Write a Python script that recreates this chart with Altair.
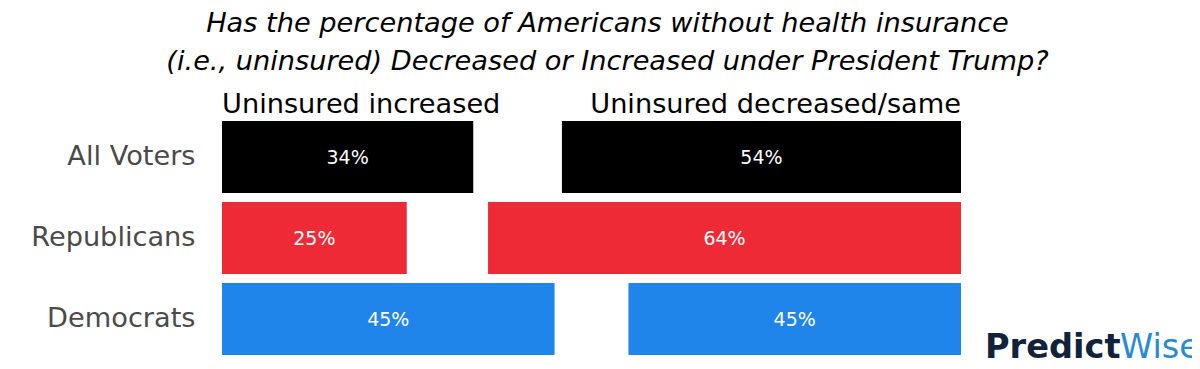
import altair as alt
import pandas as pd

groups = ["All Voters", "Republicans", "Democrats"]
increased = [34, 25, 45]
decreased = [54, 64, 45]
group_colors = ["#000000", "#ee2a37", "#1f85ea"]
headers = ["Uninsured increased", "Uninsured decreased/same"]
title_lines = [
    "Has the percentage of Americans without health insurance",
    "(i.e., uninsured) Decreased or Increased under President Trump?",
]

rows = []
for g, inc, dec in zip(groups, increased, decreased):
    rows.append({"group": g, "side": "inc", "value": inc})
    rows.append({"group": g, "side": "dec", "value": dec})
df = pd.DataFrame(rows)

FONT = "DejaVu Sans"
BIG = 27.2
xscale = alt.Scale(domain=[0, 100], nice=False, zero=False)
yscale = alt.Scale(domain=groups, paddingInner=0.1111, paddingOuter=0.0556)

base = alt.Chart(df).transform_calculate(
    x0="datum.side == 'inc' ? 0 : 100 - datum.value",
    x1="datum.side == 'inc' ? datum.value : 100",
    label="datum.value + '%'",
).transform_calculate(mid="(datum.x0 + datum.x1) / 2")

bars = base.mark_bar().encode(
    x=alt.X("x0:Q", scale=xscale, axis=None),
    x2="x1:Q",
    y=alt.Y(
        "group:N",
        scale=yscale,
        sort=groups,
        axis=alt.Axis(
            title=None,
            ticks=False,
            domain=False,
            labelFontSize=BIG,
            labelFont=FONT,
            labelColor="#4a4a4a",
            labelPadding=27,
            labelBaseline="middle",
        ),
    ),
    color=alt.Color("group:N", scale=alt.Scale(domain=groups, range=group_colors), legend=None),
)

vals = base.mark_text(color="white", font=FONT, fontSize=19, baseline="middle", dy=1).encode(
    x=alt.X("mid:Q", scale=xscale),
    y=alt.Y("group:N", scale=yscale, sort=groups),
    text="label:N",
)

hdr_df = pd.DataFrame({"text": headers, "pos": [0, 100]})
hdr_left = alt.Chart(hdr_df.iloc[[0]]).mark_text(
    align="left", baseline="alphabetic", font=FONT, fontSize=BIG, color="black"
).encode(x=alt.X("pos:Q", scale=xscale), y=alt.value(-4), text="text:N")
hdr_right = alt.Chart(hdr_df.iloc[[1]]).mark_text(
    align="right", baseline="alphabetic", font=FONT, fontSize=BIG, color="black"
).encode(x=alt.X("pos:Q", scale=xscale), y=alt.value(-4), text="text:N")

title_df = pd.DataFrame({"text": title_lines, "line": [0, 1]})
title1 = alt.Chart(title_df.iloc[[0]]).mark_text(
    align="center", baseline="alphabetic", font=FONT, fontSize=BIG,
    fontStyle="italic", color="black"
).encode(x=alt.value(385.5), y=alt.value(-85), text="text:N")
title2 = alt.Chart(title_df.iloc[[1]]).mark_text(
    align="center", baseline="alphabetic", font=FONT, fontSize=BIG,
    fontStyle="italic", color="black"
).encode(x=alt.value(385.5), y=alt.value(-47), text="text:N")

logo_df = pd.DataFrame({"text": ["Predict", "Wise"]})
logo1 = alt.Chart(logo_df.iloc[[0]]).mark_text(
    align="left", baseline="alphabetic", font=FONT, fontSize=33.6,
    fontWeight="bold", color="#13223b"
).encode(x=alt.value(763), y=alt.value(241), text="text:N")
logo2 = alt.Chart(logo_df.iloc[[1]]).mark_text(
    align="left", baseline="alphabetic", font=FONT, fontSize=33.6,
    color="#2a8ad0"
).encode(x=alt.value(898), y=alt.value(241), text="text:N")

chart = alt.layer(bars, vals, hdr_left, hdr_right, title1, title2, logo1, logo2).properties(
    width=739,
    height=243,
    autosize=alt.AutoSizeParams(type="none"),
    padding={"left": 214, "top": 108.5, "right": 231, "bottom": 2},
).configure_view(stroke=None)

chart.save("out.html", embed_options={"renderer": "svg", "actions": False})
